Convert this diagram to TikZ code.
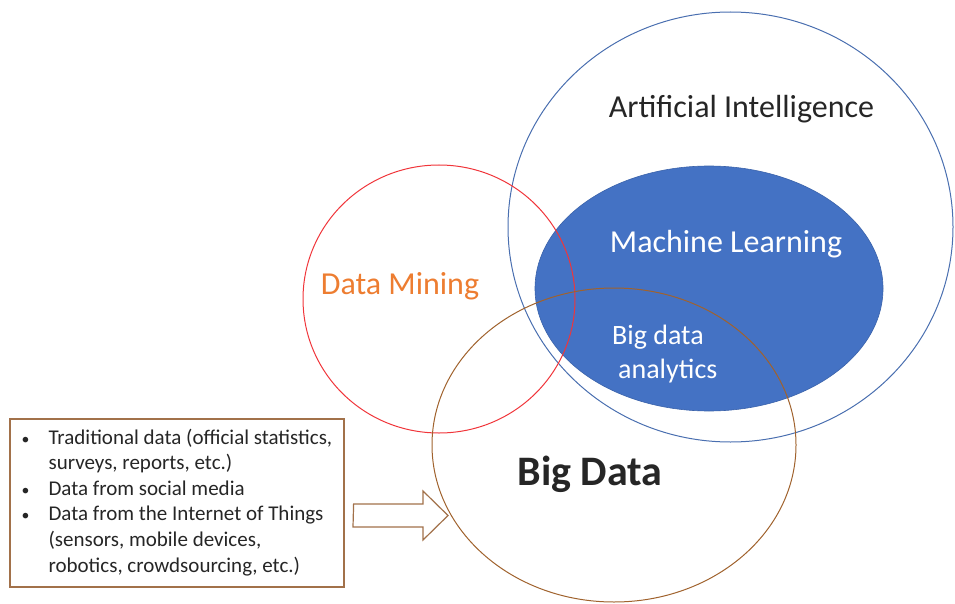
\documentclass[tikz,border=0pt]{standalone}
\usepackage{fontspec}
\setmainfont{Carlito}
\usepackage{tikz}
\usetikzlibrary{positioning, shapes.geometric}
\usepackage{xcolor}
\definecolor{aiblue}{HTML}{4A6FB0}
\definecolor{mlfill}{HTML}{4472C4}
\definecolor{mledge}{HTML}{3A62AA}
\definecolor{minered}{HTML}{F0353A}
\definecolor{mineorange}{HTML}{ED7D31}
\definecolor{bigbrown}{HTML}{A0622D}
\definecolor{boxbrown}{HTML}{A2714A}
\definecolor{inkgray}{HTML}{262626}

\tikzset{
  field/.style={ellipse, inner sep=0pt, line width=1pt},
  sourcebox/.style={draw=boxbrown, line width=1.2pt, inner sep=0pt,
    minimum width=334pt, minimum height=168pt},
  flowarrow/.style={draw=boxbrown, line width=1.2pt, fill=white, line join=miter}
}

\begin{document}
\begin{tikzpicture}[x=1pt, y=-1pt, font=\fontsize{21}{25.6}\selectfont]
  \useasboundingbox (0,0) rectangle (955,604);
  % the fields
  \node[field, draw=aiblue, minimum width=445pt, minimum height=430pt] (ai) at (730.5,227) {};
  \node[field, draw=mledge, fill=mlfill, line width=0.6pt, minimum width=348pt, minimum height=245pt] (ml) at (709,288.5) {};
  \node[field, draw=minered, minimum width=272pt, minimum height=268pt] (dm) at (439,299) {};
  \node[field, draw=bigbrown, minimum width=364pt, minimum height=314pt] (bd) at (614,445) {};
  % their names
  \node[anchor=base, text=inkgray, font=\fontsize{32}{38}\selectfont] (ailabel) at (741.5,118) {Artificial Intelligence};
  \node[anchor=base, text=white, font=\fontsize{32}{38}\selectfont] (mllabel) at (726,252) {Machine Learning};
  \node[anchor=base, text=mineorange, font=\fontsize{32}{38}\selectfont] (dmlabel) at (400,294) {Data Mining};
  \node[anchor=base, text=inkgray, font=\fontsize{42}{50}\selectfont\bfseries] (bdlabel) at (590,485) {Big Data};
  \node[anchor=west, text=white, align=left, inner sep=0pt, font=\fontsize{28}{34}\selectfont] (bda) at (612,354) {Big data\\\hspace*{6pt}analytics};
  % where the data comes from
  \node[sourcebox, text=inkgray] (sources) at (177,503) {%
    \begin{tabular}{@{}c@{\hspace{19pt}}l@{}}
      \scalebox{0.75}{\textbullet} & Traditional data (official statistics,\\
                  & surveys, reports, etc.)\\
      \scalebox{0.75}{\textbullet} & Data from social media\\
      \scalebox{0.75}{\textbullet} & Data from the Internet of Things\\
                  & (sensors, mobile devices,\\
                  & robotics, crowdsourcing, etc.)
    \end{tabular}};
  \coordinate (tip) at (448,515.5);
  \draw[flowarrow] (sources.east |- 0,504) ++(9,0) -- (423,504) -- (423,491) -- (tip)
    -- (423,540) -- (423,527) -- (353,527) -- cycle;
\end{tikzpicture}
\end{document}
